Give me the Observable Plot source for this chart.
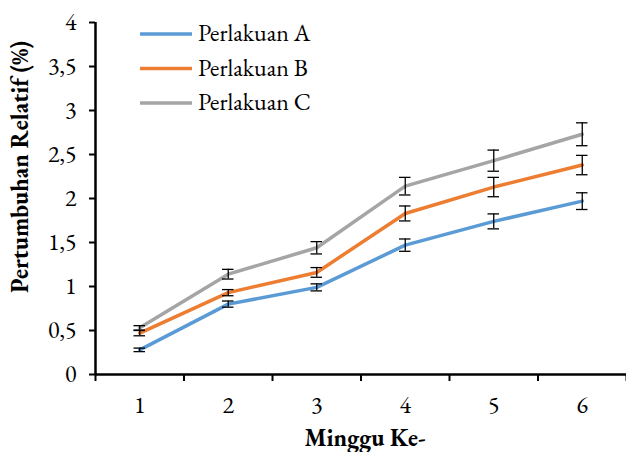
<!DOCTYPE html>
<html>
<head>
<meta charset="utf-8">
<script src="https://cdn.jsdelivr.net/npm/d3@7"></script>
<script src="https://cdn.jsdelivr.net/npm/@observablehq/plot@0.6"></script>
<style>
  html, body { margin: 0; padding: 0; background: #fff; }
  #chart { width: 626px; height: 452px; }
</style>
</head>
<body>
<div id="chart"></div>
<script>
const weeks = [1, 2, 3, 4, 5, 6];
const seriesNames = ["Perlakuan A", "Perlakuan B", "Perlakuan C"];
const seriesColors = ["#5B9BD5", "#ED7D31", "#A5A5A5"];
const valuesA = [0.28, 0.80, 0.99, 1.47, 1.74, 1.97];
const valuesB = [0.47, 0.93, 1.16, 1.83, 2.13, 2.38];
const valuesC = [0.53, 1.14, 1.44, 2.14, 2.43, 2.73];
const errA = [0.02, 0.035, 0.04, 0.07, 0.085, 0.095];
const errB = [0.03, 0.035, 0.055, 0.085, 0.11, 0.11];
const errC = [0.025, 0.055, 0.07, 0.10, 0.12, 0.13];
const yTicks = [0, 0.5, 1, 1.5, 2, 2.5, 3, 3.5, 4];
const xTitle = "Minggu Ke-";
const yTitle = "Pertumbuhan Relatif (%)";

const allValues = [valuesA, valuesB, valuesC];
const allErrs = [errA, errB, errC];
const data = [];
seriesNames.forEach((s, i) => {
  weeks.forEach((w, j) => {
    data.push({series: s, week: w, value: allValues[i][j], err: allErrs[i][j]});
  });
});
const boundaries = d3.range(weeks.length + 1).map(i => weeks[0] - 0.5 + i);
const fmt = d => String(d).replace(".", ",");
const font = "'EB Garamond', 'Liberation Serif', serif";
const capHalf = 0.065;

const marks = [
  Plot.axisY({ticks: yTicks, tickFormat: fmt, tickSize: 6, tickPadding: 13, fontSize: 24, label: null, strokeWidth: 2}),
  Plot.axisX({ticks: boundaries, tickFormat: () => "", tickSize: 7, label: null, strokeWidth: 2}),
  Plot.axisX({ticks: weeks, tickFormat: d => String(d), tickSize: 0, tickPadding: 21, fontSize: 24, label: null}),
  Plot.ruleX([boundaries[0]], {stroke: "black", strokeWidth: 2.5}),
  Plot.ruleY([0], {stroke: "black", strokeWidth: 2.5})
];
seriesNames.forEach((s, i) => {
  const d = data.filter(r => r.series === s);
  marks.push(Plot.line(d, {x: "week", y: "value", stroke: seriesColors[i], strokeWidth: 3.5}));
  marks.push(Plot.ruleX(d, {x: "week", y1: r => r.value - r.err, y2: r => r.value + r.err, stroke: "black", strokeWidth: 1.3}));
  marks.push(Plot.ruleY(d, {y: r => r.value - r.err, x1: r => r.week - capHalf, x2: r => r.week + capHalf, stroke: "black", strokeWidth: 1.3}));
  marks.push(Plot.ruleY(d, {y: r => r.value + r.err, x1: r => r.week - capHalf, x2: r => r.week + capHalf, stroke: "black", strokeWidth: 1.3}));
});

const chart = Plot.plot({
  width: 626,
  height: 452,
  marginLeft: 95,
  marginRight: 0,
  marginTop: 22,
  marginBottom: 78,
  style: {fontFamily: font, color: "black", background: "white", overflow: "visible"},
  x: {type: "linear", domain: [boundaries[0], boundaries[boundaries.length - 1]]},
  y: {domain: [0, 4]},
  marks
});
document.getElementById("chart").appendChild(chart);

// Titles and in-plot legend
const svg = d3.select(chart);
svg.append("text")
  .attr("transform", "translate(28,167) rotate(-90)")
  .attr("text-anchor", "middle")
  .attr("font-size", 24).attr("font-weight", "bold")
  .attr("fill", "black")
  .text(yTitle);
svg.append("text")
  .attr("x", 365).attr("y", 446)
  .attr("text-anchor", "middle")
  .attr("font-size", 24).attr("font-weight", "bold")
  .attr("fill", "black")
  .text(xTitle);
const lg = svg.append("g");
seriesNames.forEach((s, i) => {
  const y = 34 + i * 34.5;
  lg.append("line").attr("x1", 140).attr("x2", 192).attr("y1", y).attr("y2", y)
    .attr("stroke", seriesColors[i]).attr("stroke-width", 3.5);
  lg.append("text").attr("x", 198).attr("y", y + 7)
    .attr("text-anchor", "start")
    .attr("font-size", 24).attr("fill", "black")
    .text(s);
});
svg.selectAll("text").style("font-family", font);
</script>
</body>
</html>
